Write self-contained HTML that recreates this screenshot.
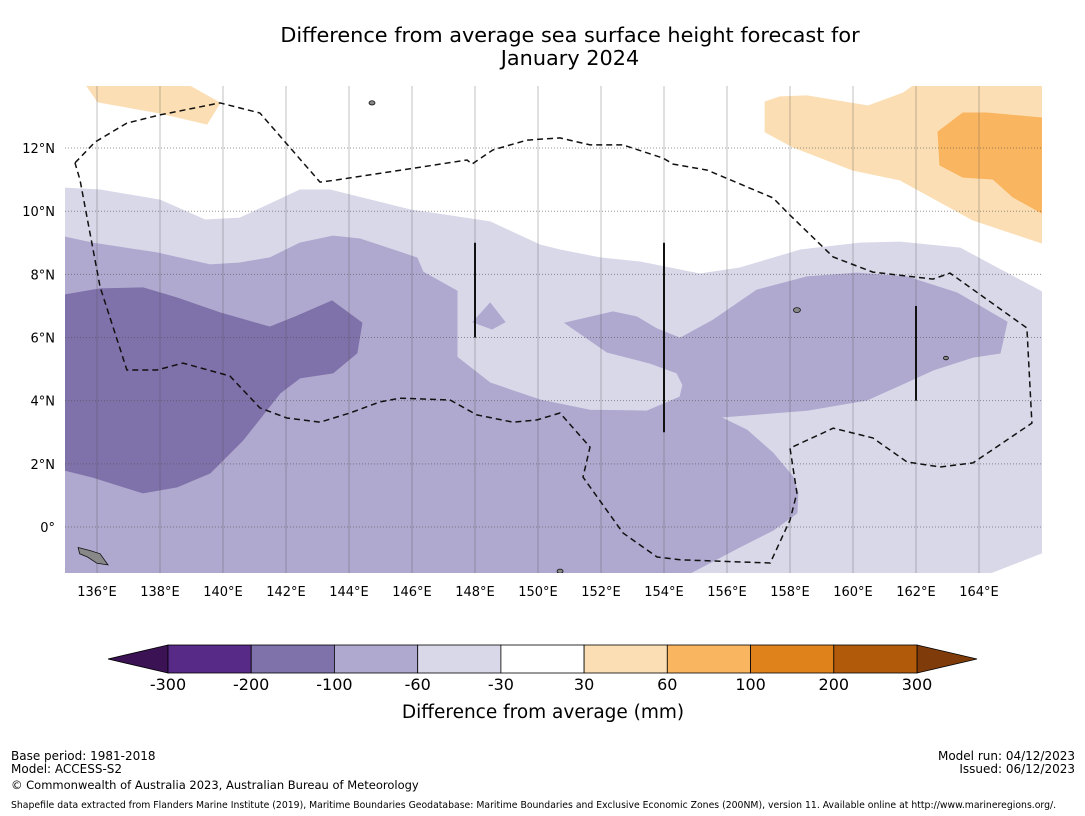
<!DOCTYPE html>
<html><head><meta charset="utf-8"><style>
body{margin:0;background:#fff;width:1085px;height:816px;overflow:hidden;font-family:"DejaVu Sans","Liberation Sans",sans-serif;}
svg{position:absolute;left:0;top:0}
</style></head><body>
<svg id="chart" width="1085" height="816" xmlns="http://www.w3.org/2000/svg"></svg>
<script>
const lonTicks=[136,138,140,142,144,146,148,150,152,154,156,158,160,162,164];
const latTicks=[0,2,4,6,8,10,12];
const lightRegion=[[134.98,10.73],[136.1,10.67],[138.0,10.35],[139.43,9.72],[140.54,9.78],[142.44,10.67],[143.4,10.67],[145.94,10.04],[148.48,9.66],[150.06,8.93],[150.7,8.77],[151.97,8.52],[153.24,8.39],[155.14,8.01],[156.41,8.2],[158.33,8.77],[160.22,8.99],[161.49,9.02],[163.4,8.83],[166.0,7.44],[166.0,-0.82],[164.35,-1.46],[134.98,-1.46]];
const midRegion=[[134.98,9.18],[135.87,8.99],[137.9,8.68],[139.59,8.3],[140.54,8.36],[141.49,8.52],[142.44,8.99],[143.49,9.21],[144.35,9.12],[146.16,8.52],[146.35,8.07],[147.43,7.47],[147.43,5.38],[148.48,4.56],[150.06,4.02],[151.65,3.7],[153.46,3.67],[154.51,4.12],[154.6,4.5],[154.41,4.88],[153.56,5.19],[152.19,5.54],[150.86,6.46],[152.38,6.81],[153.14,6.65],[153.78,6.27],[154.51,5.98],[155.56,6.55],[156.95,7.5],[158.54,7.92],[160.13,8.04],[161.71,7.92],[163.3,7.41],[164.89,6.49],[164.67,5.51],[163.81,5.38],[162.54,4.97],[161.71,4.59],[160.44,4.02],[158.54,3.7],[155.78,3.48],[156.63,3.07],[157.46,2.34],[158.1,1.58],[158.25,1.08],[158.22,0.44],[157.46,-0.1],[156.41,-0.63],[154.83,-1.46],[134.98,-1.46]];
const midDiamond=[[148.48,7.09],[148.95,6.49],[148.54,6.27],[147.94,6.49]];
const darkRegion=[[134.98,7.35],[136.1,7.54],[137.46,7.57],[138.54,7.25],[139.9,6.78],[141.49,6.33],[142.22,6.62],[143.46,7.16],[144.41,6.46],[144.25,5.51],[143.49,4.88],[142.44,4.72],[141.81,4.24],[140.63,2.75],[139.59,1.71],[138.54,1.27],[137.46,1.08],[135.87,1.58],[134.98,1.8]];
const orangeLeft=[[135.68,13.96],[138.95,13.96],[139.9,13.43],[139.49,12.76],[138.0,13.11],[136.03,13.46]];
const orangeRight=[[161.9,13.96],[166,13.96],[166,8.99],[163.81,9.72],[161.49,10.99],[160.0,11.3],[158.1,12.03],[157.21,12.51],[157.21,13.46],[157.68,13.62],[158.54,13.65],[160.48,13.33],[161.59,13.74]];
const orangeMid=[[163.49,13.11],[164.25,13.11],[166,12.95],[166,9.94],[165.08,10.45],[164.44,11.02],[163.49,11.08],[162.76,11.46],[162.7,12.51]];
const eezLine=[[135.3,11.53],[135.94,12.19],[136.95,12.79],[138.0,13.05],[139.9,13.43],[141.17,13.11],[143.08,10.92],[143.62,10.99],[147.75,11.62],[147.9,11.49],[148.57,11.94],[149.65,12.25],[150.7,12.32],[151.65,12.1],[152.7,12.1],[153.97,11.68],[154.29,11.49],[155.37,11.3],[157.46,10.42],[157.9,9.97],[159.37,8.55],[160.63,8.07],[162.54,7.85],[163.08,8.04],[165.52,6.3],[165.68,3.29],[163.81,2.03],[162.76,1.9],[161.71,2.06],[160.63,2.82],[159.37,3.13],[158.0,2.5],[158.22,1.08],[158.0,0.22],[157.37,-1.14],[154.51,-1.04],[153.78,-0.95],[152.7,-0.19],[151.43,1.58],[151.65,2.53],[150.7,3.61],[149.97,3.39],[149.21,3.32],[148.06,3.55],[147.21,4.02],[145.62,4.08],[144.98,3.96],[144.03,3.61],[143.08,3.32],[142.03,3.45],[141.17,3.77],[140.22,4.78],[138.73,5.19],[137.9,4.97],[136.95,4.97],[136.1,7.6],[135.46,10.99],[135.3,11.53]];
const blackLines=[[148,9,6],[154,9,3],[162,7,4]];
const islands=[[144.73,13.43,3],[158.22,6.87,3.5],[162.95,5.35,2.5],[150.7,-1.4,3]];
const swIsland=[[135.4,-0.65],[135.8,-0.75],[136.1,-0.85],[136.35,-1.2],[136.0,-1.15],[135.7,-0.95],[135.45,-0.85]];
const cbLabels=["-300","-200","-100","-60","-30","30","60","100","200","300"];
const cbColors=["#562a86","#7f71a9","#afa8cf","#d8d8e9","#ffffff","#fcdeb4","#f9b55f","#e0821b","#b05a0a"];

const X0=65,X1=1042,Y0=86,Y1=573;
const xs=lon=>97+(lon-136)*31.5;
const ys=lat=>527-lat*31.58;
const NS="http://www.w3.org/2000/svg";
const svg=document.getElementById('chart');
function mk(tag,attrs,parent){const e=document.createElementNS(NS,tag);for(const k in attrs)e.setAttribute(k,attrs[k]);(parent||svg).appendChild(e);return e;}
const pts=a=>a.map(p=>xs(p[0]).toFixed(1)+','+ys(p[1]).toFixed(1)).join(' ');

const defs=mk('defs',{});
const cp=mk('clipPath',{id:'mapclip'},defs);
mk('rect',{x:X0,y:Y0,width:X1-X0,height:Y1-Y0},cp);
const g=mk('g',{'clip-path':'url(#mapclip)'});


const bg=mk('rect',{x:X0,y:Y0,width:X1-X0,height:Y1-Y0,fill:'#fff'},g);


function poly(a,fill,name){const e=mk('polygon',{points:pts(a),fill:fill,stroke:fill,'stroke-width':1},g);

}
poly(lightRegion,'#d8d8e9','contour-minus60-minus30');
poly(midRegion,'#afa8cf','contour-minus100-minus60');
poly(midDiamond,'#afa8cf','contour-minus100-minus60-patch');
poly(darkRegion,'#7f71a9','contour-minus200-minus100');
poly(orangeLeft,'#fcdeb4','contour-30-60-west');
poly(orangeRight,'#fcdeb4','contour-30-60-east');
poly(orangeMid,'#f9b55f','contour-60-100');
lonTicks.forEach(l=>{const e=mk('line',{x1:xs(l),x2:xs(l),y1:Y0,y2:Y1,stroke:'rgba(80,80,80,0.35)','stroke-width':1},g);

});
latTicks.forEach(l=>{const e=mk('line',{x1:X0,x2:X1,y1:ys(l),y2:ys(l),stroke:'rgba(80,80,80,0.6)','stroke-width':1,'stroke-dasharray':'1,2'},g);

});
const eez=mk('polyline',{points:pts(eezLine),fill:'none',stroke:'#111','stroke-width':1.5,'stroke-dasharray':'6,4'},g);


blackLines.forEach(b=>{const e=mk('line',{x1:xs(b[0]),x2:xs(b[0]),y1:ys(b[1]),y2:ys(b[2]),stroke:'#111','stroke-width':2},g);

});
islands.forEach(i=>{const e=mk('ellipse',{cx:xs(i[0]),cy:ys(i[1]),rx:i[2],ry:i[2]*0.7,fill:'#888',stroke:'#111','stroke-width':0.8},g);

});
const swi=mk('polygon',{points:pts(swIsland),fill:'#888',stroke:'#111','stroke-width':0.8},g);



function txt(x,y,s,size,anchor,name){const e=mk('text',{x:x,y:y,'font-size':size,'text-anchor':anchor||'middle',fill:'#000'});e.textContent=s;

return e;}
lonTicks.forEach(l=>txt(xs(l),596,l+'°E',13,'middle','lon-tick-label'));
latTicks.forEach(l=>txt(55,ys(l)+5,l===0?'0°':l+'°N',13,'end','lat-tick-label'));

txt(570,42,'Difference from average sea surface height forecast for',20.8,'middle','chart-title');
txt(570,65,'January 2024',20.8,'middle','chart-title-line2');

const cbX=[168,251.2,334.4,417.7,500.9,584.1,667.3,750.6,833.8,917];
const cbg=mk('g',{});


const lt=mk('polygon',{points:'168,645 108,659 168,673',fill:'#3b1253',stroke:'#000','stroke-width':0.8},cbg);


const rt=mk('polygon',{points:'917,645 977,659 917,673',fill:'#7f3c0a',stroke:'#000','stroke-width':0.8},cbg);


cbColors.forEach((c,i)=>{const e=mk('rect',{x:cbX[i],y:645,width:cbX[i+1]-cbX[i],height:28,fill:c,stroke:'#000','stroke-width':0.8},cbg);

});
cbLabels.forEach((s,i)=>txt(cbX[i],690,s,16,'middle','colorbar-tick-label'));
txt(543,718,'Difference from average (mm)',18.5,'middle','colorbar-title');

txt(11,760,'Base period: 1981-2018',12,'start','base-period-note');
txt(11,773,'Model: ACCESS-S2',12,'start','model-note');
txt(11,789,'© Commonwealth of Australia 2023, Australian Bureau of Meteorology',11.5,'start','copyright-note');
txt(11,808,'Shapefile data extracted from Flanders Marine Institute (2019), Maritime Boundaries Geodatabase: Maritime Boundaries and Exclusive Economic Zones (200NM), version 11. Available online at http://www.marineregions.org/.',9.3,'start','shapefile-note');
txt(1075,760,'Model run: 04/12/2023',12,'end','model-run-note');
txt(1075,773,'Issued: 06/12/2023',12,'end','issued-note');
</script>
</body></html>
